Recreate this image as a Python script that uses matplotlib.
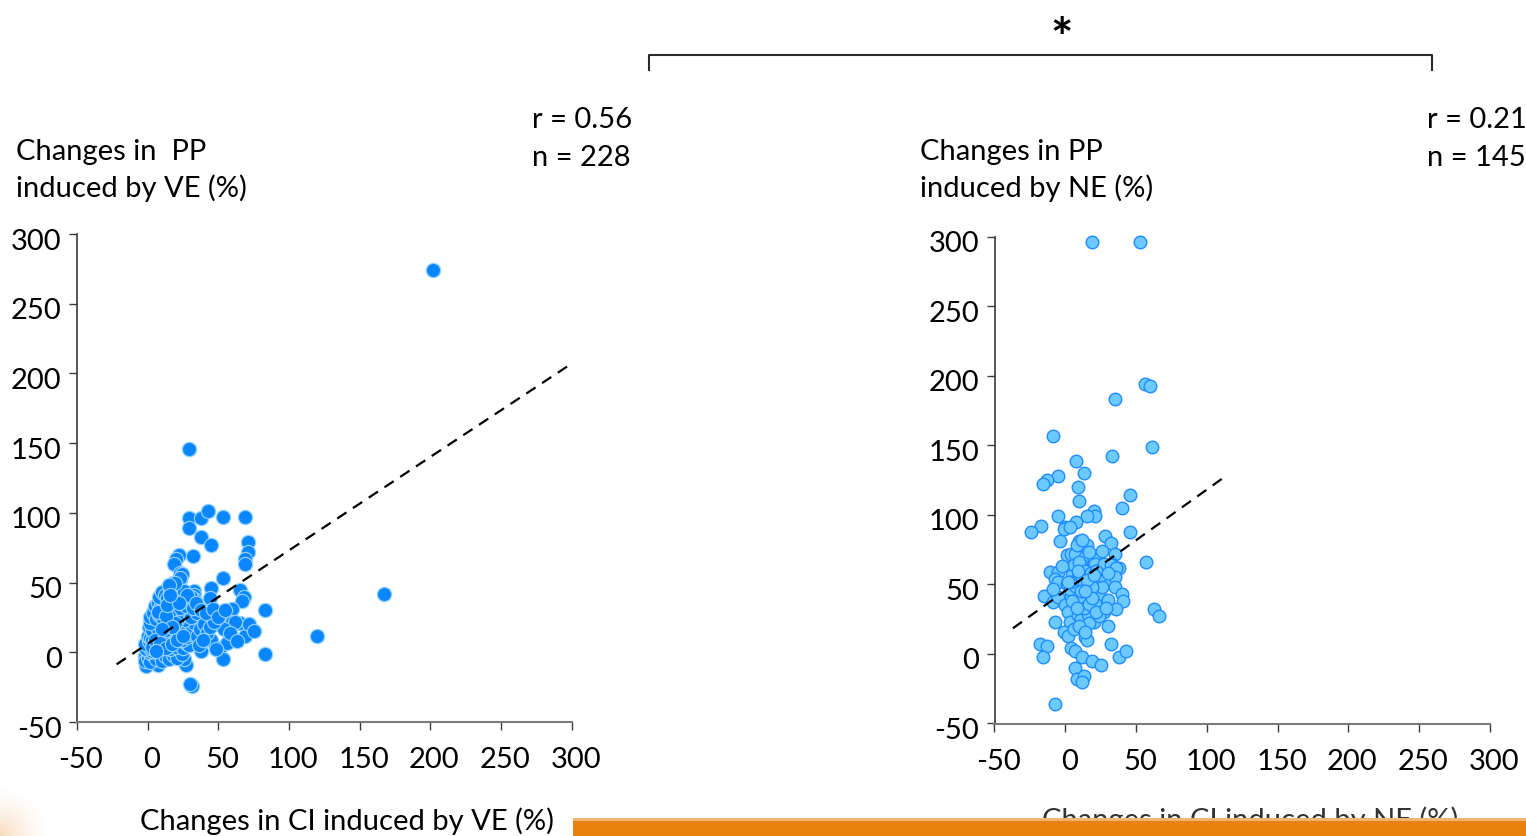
import matplotlib
matplotlib.use('Agg')
import matplotlib.pyplot as plt
import numpy as np
from matplotlib.transforms import ScaledTranslation
from matplotlib.patches import Rectangle
from matplotlib.lines import Line2D

plt.rcParams['font.family'] = ['Lato', 'DejaVu Sans']
plt.rcParams['axes.unicode_minus'] = False

# ---------------- data ----------------
ticks = [-50, 0, 50, 100, 150, 200, 250, 300]

# Left panel: VE (n = 228)
ve_ci = [201.6, 167, 120, 83, 83, 29, 29, 38, 43, 53, 69, 29, 38, 45, 71, 71, 69, 69,
         22, 20, 18.5, 32, 23, 23, 53, 65, 68, 67, 45, 44, 33, 33, 30, 60, 65, 60, 62,
         54, 69, 48, 40, 38, 45, 51, 56, 53, 38, 31.5, 30, 27, 26, 7, -1, -2, 4, 3,
         24, 23, 18, 14.5, 13, 17, 33, 31, 34, 34,
         -2, 0, 2, 4, 6, 8, 10, 12, 15, 18, 21, 24, 1, -1, 3,
         0, 2, 4, 6, 8, 10, 12, 14, 16, 18, 20, 22, 25, 27, 29, -2, 1, 5,
         0, 2, 4, 6, 8, 10, 12, 14, 16, 18, 20, 22, 24, 26, 28, 31, 3, 7, 11, 19,
         1, 3, 5, 7, 9, 11, 13, 15, 17, 19, 21, 23, 25, 27, 30, 33, 6, 12, 20, 2,
         2, 4, 6, 8, 10, 12, 14, 16, 18, 20, 22, 24, 26, 28, 31, 35, 9, 15, 21,
         5, 7, 9, 11, 13, 15, 17, 19, 21, 23, 25, 27, 30, 12, 18,
         8, 10, 12, 14, 16, 18, 20, 22, 24, 26, 19, 15, 28,
         35, 37, 40, 42, 36, 39, 44, 47, 32, 34, 38, 41, 46, 50, 55, 58, 63, 72, 75, 48,
         3, 5, 9, 13, 17, 23, 11, 15, 19, 7, 13, 17, 21, 25, 6, 10, 14, 22, 16]
ve_pp = [274, 42, 12, -1, 30, 146, 96, 96, 101, 97, 97, 89, 83, 77, 79, 72, 67, 63,
         70, 67, 63, 69, 57, 52, 53, 45, 40, 37, 46, 39, 44, 41, 40, 31, 21, 22, 22,
         17, 12, 24, 26, 24, 9, 3, 7, -5, 1, -24, -23, -9, -5, -9, -10, -3, 29, 26,
         56, 53, 50, 46, 41.5, 43, 38, 40, 14, 8,
         -6, -4, -7, -2, -5, -1, -6, -3, -5, -2, -4, -1, 0, 2, 1,
         5, 3, 7, 4, 6, 3, 8, 5, 2, 7, 4, 6, 3, 7, 5, 6, 8, 2,
         12, 10, 14, 11, 13, 9, 15, 11, 13, 10, 14, 12, 9, 15, 11, 13, 9, 15, 12, 15,
         18, 16, 20, 17, 21, 18, 16, 20, 22, 17, 19, 21, 17, 20, 18, 21, 22, 21, 16, 21,
         25, 28, 24, 27, 25, 29, 23, 27, 24, 28, 25, 29, 23, 27, 25, 28, 30, 30, 23,
         33, 35, 32, 36, 33, 37, 31, 34, 38, 32, 35, 33, 36, 38, 37,
         40, 43, 41, 39, 44, 47, 42, 45, 40, 44, 50, 48, 41,
         12, 17, 20, 14, 5, 9, 18, 22, 32, 35, 30, 28, 31, 25, 30, 14, 8, 20, 15, 2,
         4, 9, 7, 3, 6, 14, 24, 26, 21, 29, 26, 18, 9, 12, 1, 17, 34, 35, 41]

# Right panel: NE (n = 145)
ne_ci = [19, 53, 56, 60, 35, -8.5, 61, 33, 7.5, 13, -5, -13, -16, 9, 46,
         10, 40, -5, 20, 21, 15, 7.5, 0, -1, 3, -17, -24, 46, 28, -4, 10, 13, 15, 32, 1,
         4, 7, 14, 20, 26, 35, 57, 12, 33, 38,
         -11, -5, -7, -5, 5, 9, 12, 16, 21, 27, 32, 36, 29, 35, 35, 1, -15, -9, -5, 0,
         4, 8, 11, 17, 18, 23, 24, 30, 40, 41, 36, 63, 66, 2, 3, -7, 9, 11, 16, 20,
         17, 30, -1, 2, 14, 15, 32, -18, -13, -16, 4, 7, 12, 19, 25, 38, 43, 7, 8, 13,
         12, -7,
         6, 10, 14, 18, 22, 26, 3, 7, 13, 19, 25, 9, 5, 13, 21, 27, 8, 17, 24, 6,
         10, 14, 22, 29, 11, 15, 19, -2, -9, 22, 17, 8, 20, 12, 14, 3, 30, 2]
ne_pp = [296, 296, 194, 193, 183, 157, 149, 142, 139, 130, 128, 125, 122, 120, 114,
         110, 105, 99, 103, 99, 99, 95, 91, 90, 91, 92, 88, 88, 85, 81, 81, 78, 78, 80, 71,
         72, 72, 70, 68, 74, 72, 66, 63, 65, 62,
         59, 59, 54, 52, 57, 55, 62, 56, 65, 65, 64, 62, 52, 55, 48, 50, 42, 37, 41, 35,
         42, 44, 38, 44, 44, 44, 43, 39, 43, 38, 32, 32, 27, 30, 23, 23, 28, 25, 29, 23,
         22, 20, 16, 13, 12, 10, 7, 7, 6, -2, 4, 2, -2, -5, -8, -2, 2, -10, -18, -16,
         -20, -36,
         64, 66, 60, 58, 52, 48, 47, 49, 50, 48, 57, 60, 38, 33, 36, 30, 33, 36, 27, 18,
         20, 16, 30, 33, 45, 53, 40, 63, 47, 60, 73, 78, 57, 82, 45, 52, 58, 52]

# Trend lines: (intercept, slope, x start, x end)
ve_fit = (6.1, 0.67, -22, 297)
ne_fit = (45.4, 0.728, -37, 113)

# ---------------- figure ----------------
W, H = 1526, 836
fig = plt.figure(figsize=(W / 100, H / 100), dpi=100)


def fx(px):
    return px / W


def fy(py):
    return 1 - py / H


FS = 21


def make_axes(x0, x1, ytop, ybot, xpad):
    ax = fig.add_axes([fx(x0), fy(ybot), fx(x1) - fx(x0), fy(ytop) - fy(ybot)])
    ax.set_xlim(-50, 300)
    ax.set_ylim(-50, 300)
    ax.set_xticks(ticks)
    ax.set_yticks(ticks)
    for s in ('top', 'right'):
        ax.spines[s].set_visible(False)
    ax.spines['left'].set_color('#3a3a3a')
    ax.spines['left'].set_linewidth(1.2)
    ax.spines['bottom'].set_color('#7a7a7a')
    ax.spines['bottom'].set_linewidth(1.5)
    ax.tick_params(axis='both', direction='out', length=6, width=1.0,
                   color='#3a3a3a', labelsize=FS, labelcolor='black')
    ax.tick_params(axis='y', pad=5)
    ax.tick_params(axis='x', pad=xpad)
    off_y = ScaledTranslation(0, -5 / 100, fig.dpi_scale_trans)
    off_x = ScaledTranslation(4 / 100, 0, fig.dpi_scale_trans)
    for lab in ax.get_yticklabels():
        lab.set_transform(lab.get_transform() + off_y)
    for lab in ax.get_xticklabels():
        lab.set_transform(lab.get_transform() + off_x)
    return ax


axL = make_axes(77, 571.7, 234, 722, 12)
axR = make_axes(994.5, 1490, 236.7, 723.5, 12.5)

axL.scatter(ve_ci, ve_pp, s=105, c='#0a86ff', edgecolors='#8fd0ff',
            linewidths=0.9, zorder=3, clip_on=False)
axR.scatter(ne_ci, ne_pp, s=82, c='#6cc9ff', edgecolors='#1f8cff',
            linewidths=1.0, zorder=3, clip_on=False)

for ax, (b, m, xa, xb) in ((axL, ve_fit), (axR, ne_fit)):
    xs = np.array([xa, xb])
    ax.plot(xs, b + m * xs, color='black', lw=1.6, dashes=(5, 3.5), zorder=4)

# ---------------- texts ----------------
fig.text(fx(16), fy(160), 'Changes in  PP', fontsize=FS, va='baseline')
fig.text(fx(16), fy(197), 'induced by VE (%)', fontsize=FS, va='baseline')
fig.text(fx(920), fy(160), 'Changes in PP', fontsize=FS, va='baseline')
fig.text(fx(920), fy(197), 'induced by NE (%)', fontsize=FS, va='baseline')

fig.text(fx(532), fy(128), 'r = 0.56', fontsize=FS, va='baseline')
fig.text(fx(532), fy(166), 'n = 228', fontsize=FS, va='baseline')
fig.text(fx(1427), fy(128), 'r = 0.21', fontsize=FS, va='baseline')
fig.text(fx(1427), fy(166), 'n = 145', fontsize=FS, va='baseline')

fig.text(fx(347), fy(830), 'Changes in CI induced by VE (%)', fontsize=FS,
         ha='center', va='baseline')
fig.text(fx(1250), fy(829), 'Changes in CI induced by NE (%)', fontsize=FS,
         ha='center', va='baseline', color='#333333')

# significance bracket
fig.add_artist(Line2D([fx(649), fx(649), fx(1432), fx(1432)],
                      [fy(70), fy(55), fy(55), fy(70)],
                      color='#2a2a2a', lw=1.5, transform=fig.transFigure))
fig.text(fx(1062), fy(57), '*', fontsize=38, fontweight='bold',
         ha='center', va='baseline')

# orange band at the bottom
fig.add_artist(Rectangle((fx(573), 0), 1 - fx(573), fy(821), transform=fig.transFigure,
                         facecolor='#e9830f', edgecolor='none', zorder=10))
fig.add_artist(Rectangle((fx(573), fy(821)), 1 - fx(573), 3 / H, transform=fig.transFigure,
                         facecolor='#f2b56e', edgecolor='none', zorder=10))

# faint orange glow at the bottom-left corner
glow_ax = fig.add_axes([0, 0, 50 / W, 50 / H])
gy, gx = np.mgrid[0:50, 0:50]
dist = np.sqrt((gx / 50.0) ** 2 + ((49 - gy) / 50.0) ** 2)
alpha = np.clip(1 - dist, 0, 1) ** 1.5 * 0.35
rgba = np.zeros((50, 50, 4))
rgba[..., 0] = 0.93
rgba[..., 1] = 0.60
rgba[..., 2] = 0.25
rgba[..., 3] = alpha
glow_ax.imshow(rgba, aspect='auto', interpolation='bilinear')
glow_ax.axis('off')

fig.savefig('out.png', dpi=100)
